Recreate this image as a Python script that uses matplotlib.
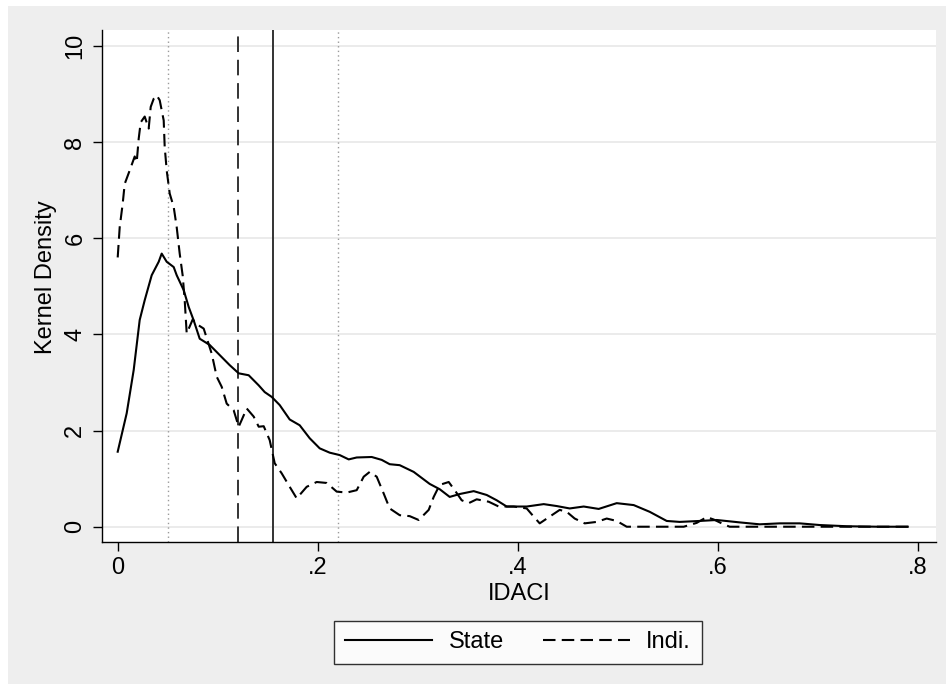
import matplotlib
matplotlib.use("Agg")
import matplotlib.pyplot as plt
from matplotlib.patches import Rectangle

plt.rcParams["font.family"] = ["Liberation Sans", "DejaVu Sans"]

# -----------------------------
# Data
# -----------------------------
state_x = [0.000, 0.009, 0.016, 0.022, 0.027, 0.034, 0.041, 0.044, 0.049, 0.056,
           0.059, 0.066, 0.071, 0.076, 0.082, 0.092, 0.102, 0.112, 0.121, 0.131,
           0.141, 0.147, 0.154, 0.162, 0.172, 0.182, 0.192, 0.202, 0.212, 0.222,
           0.231, 0.239, 0.254, 0.264, 0.272, 0.282, 0.296, 0.312, 0.322, 0.332,
           0.342, 0.356, 0.369, 0.379, 0.389, 0.409, 0.426, 0.439, 0.452, 0.466,
           0.481, 0.499, 0.516, 0.532, 0.549, 0.562, 0.582, 0.599, 0.622, 0.642,
           0.662, 0.682, 0.702, 0.729, 0.760, 0.790]
state_y = [1.56, 2.36, 3.26, 4.30, 4.71, 5.23, 5.51, 5.68, 5.51, 5.40,
           5.23, 4.92, 4.57, 4.29, 3.91, 3.78, 3.57, 3.36, 3.19, 3.15,
           2.94, 2.80, 2.70, 2.53, 2.23, 2.11, 1.84, 1.63, 1.54, 1.49,
           1.40, 1.44, 1.45, 1.39, 1.30, 1.28, 1.14, 0.89, 0.78, 0.62,
           0.68, 0.74, 0.66, 0.55, 0.42, 0.42, 0.47, 0.43, 0.38, 0.42,
           0.37, 0.49, 0.45, 0.31, 0.12, 0.10, 0.12, 0.14, 0.09, 0.05,
           0.07, 0.07, 0.035, 0.01, 0.0, 0.0]

indi_x = [0.000, 0.002, 0.005, 0.007, 0.012, 0.017, 0.019, 0.021, 0.023, 0.027,
          0.031, 0.033, 0.036, 0.039, 0.042, 0.046, 0.047, 0.049, 0.052, 0.056,
          0.059, 0.062, 0.065, 0.067, 0.069, 0.075, 0.080, 0.086, 0.094, 0.099,
          0.104, 0.109, 0.116, 0.121, 0.124, 0.129, 0.136, 0.141, 0.146, 0.152,
          0.157, 0.164, 0.172, 0.179, 0.189, 0.199, 0.209, 0.219, 0.229, 0.239,
          0.246, 0.252, 0.259, 0.266, 0.272, 0.282, 0.292, 0.301, 0.311, 0.316,
          0.322, 0.331, 0.337, 0.344, 0.351, 0.359, 0.371, 0.381, 0.396, 0.409,
          0.416, 0.422, 0.432, 0.442, 0.449, 0.457, 0.467, 0.479, 0.489, 0.499,
          0.509, 0.532, 0.566, 0.579, 0.589, 0.596, 0.606, 0.612, 0.650, 0.700,
          0.750, 0.792]
indi_y = [5.60, 6.23, 6.72, 7.13, 7.41, 7.70, 7.58, 8.07, 8.41, 8.53,
          8.28, 8.73, 8.90, 8.97, 8.87, 8.45, 7.90, 7.41, 6.93, 6.65,
          6.23, 5.68, 5.22, 4.71, 4.02, 4.31, 4.20, 4.12, 3.60, 3.12,
          2.91, 2.56, 2.42, 2.08, 2.22, 2.46, 2.29, 2.08, 2.09, 1.80,
          1.32, 1.11, 0.83, 0.59, 0.83, 0.93, 0.91, 0.73, 0.71, 0.76,
          1.04, 1.14, 1.04, 0.69, 0.38, 0.24, 0.22, 0.14, 0.35, 0.62,
          0.87, 0.93, 0.76, 0.55, 0.49, 0.57, 0.52, 0.42, 0.42, 0.38,
          0.21, 0.07, 0.21, 0.35, 0.31, 0.17, 0.07, 0.10, 0.17, 0.12,
          0.0, 0.0, 0.0, 0.08, 0.20, 0.15, 0.05, 0.0, 0.0, 0.0,
          0.0, 0.0]

mean_state = 0.155
mean_indi = 0.12
pctl_lines = [0.05, 0.22]

x_ticks = [0, 0.2, 0.4, 0.6, 0.8]
x_labels = ["0", ".2", ".4", ".6", ".8"]
y_ticks = [0, 2, 4, 6, 8, 10]

# -----------------------------
# Figure
# -----------------------------
W, H = 946, 690
fig = plt.figure(figsize=(W / 100, H / 100), dpi=100)
fig.patch.set_facecolor("white")
fig.patches.append(Rectangle((8 / W, 6 / H), (W - 8) / W, (H - 12) / H,
                             transform=fig.transFigure, facecolor="#eeeeee",
                             edgecolor="none", zorder=-10))

ax = fig.add_axes([102.3 / W, 1 - 542.3 / H, (935.7 - 102.3) / W, (542.3 - 30) / H])
ax.set_facecolor("white")

# grid
for yv in y_ticks:
    ax.axhline(yv, color="#e8e8e8", lw=1.2, zorder=0)

# reference lines
for xv in pctl_lines:
    ax.axvline(xv, color="#9a9a9a", lw=1.0, linestyle=(0, (1, 2.3)), zorder=1)
ax.axvline(mean_indi, color="#333333", lw=1.4, linestyle=(0, (8, 4)), zorder=1)
ax.axvline(mean_state, color="#333333", lw=1.4, zorder=1)

# density curves
ax.plot(state_x, state_y, color="black", lw=1.5, label="State", zorder=3)
ax.plot(indi_x, indi_y, color="black", lw=1.5, linestyle=(0, (6, 3)),
        label="Indi.", zorder=3)

ax.set_xlim(-0.0154, 0.818)
ax.set_ylim(-0.324, 10.33)

for s in ["top", "right"]:
    ax.spines[s].set_visible(False)
for s in ["left", "bottom"]:
    ax.spines[s].set_linewidth(1.0)

ax.set_xticks(x_ticks)
ax.set_xticklabels(x_labels)
ax.set_yticks(y_ticks)
ax.set_yticklabels([str(v) for v in y_ticks], rotation=90, va="center")
ax.tick_params(axis="both", length=6.5, width=1.0, labelsize=17, direction="out")
ax.tick_params(axis="y", pad=5)
ax.tick_params(axis="x", pad=4)

ax.set_xlabel("IDACI", fontsize=17, labelpad=3)
ax.set_ylabel("Kernel Density", fontsize=17)
ax.yaxis.set_label_coords(-0.054, 0.518)

leg = fig.legend(loc="center", bbox_to_anchor=(518 / W, 1 - 642.5 / H), ncol=2,
                 fontsize=17, frameon=True, fancybox=False, handlelength=3.7,
                 handletextpad=0.68, columnspacing=1.65, borderpad=0.45)
leg.get_frame().set_edgecolor("black")
leg.get_frame().set_linewidth(1.0)
leg.get_frame().set_facecolor("white")

plt.savefig("out.png", dpi=100)
plt.close()
